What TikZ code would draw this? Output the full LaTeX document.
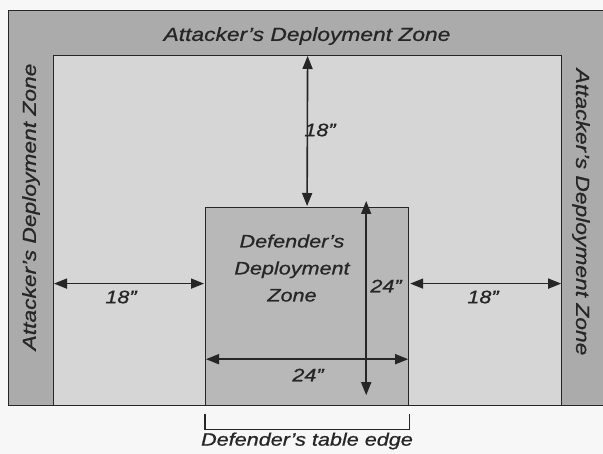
\documentclass[tikz,border=0pt]{standalone}
\usepackage{fontspec}
\setmainfont{Liberation Sans}[FakeStretch=1.2, FakeBold=0.8]
\usetikzlibrary{positioning, arrows.meta}

\definecolor{zonegray}{HTML}{ABABAB}
\definecolor{fieldgray}{HTML}{D6D6D6}
\definecolor{defgray}{HTML}{B8B8B8}
\definecolor{inkgray}{HTML}{262626}

\begin{document}
\begin{tikzpicture}[
    x=1pt, y=-1pt,
    >={Triangle[length=13pt,width=10pt]},
    font=\fontsize{18}{22}\selectfont\itshape,
    every node/.style={align=center, text=inkgray},
    area/.style={draw=inkgray, line width=1.2pt, anchor=north west, inner sep=0pt},
    zonelbl/.style={font=\fontsize{19}{22}\selectfont\itshape},
    dimarrow/.style={<->, draw=inkgray, line width=1.6pt, shorten <=1pt, shorten >=1pt}
]

% page
\fill[gray!6] (0,0) rectangle (603,454);
\useasboundingbox (0,0) rectangle (603,454);

% =================================================
% ZONES
% =================================================

% attacker zone (whole table)
\node[area, fill=zonegray, minimum width=598pt, minimum height=395pt]
    (table) at (8,10) {};

% open field
\node[area, fill=fieldgray, minimum width=508pt, minimum height=350pt]
    (field) at (53,55) {};

% defender zone
\node[area, fill=defgray, minimum width=203pt, minimum height=198pt]
    (defbox) at (205,207) {};

% attacker labels
\node[zonelbl] (atktop) at (307,36) {Attacker's Deployment Zone};
\node[zonelbl, rotate=90] (atkleft) at (31,207) {Attacker's Deployment Zone};
\node[zonelbl, rotate=-90] (atkright) at (581,212) {Attacker's Deployment Zone};

% defender label
\node[font=\fontsize{18}{27}\selectfont\itshape] (deflbl) at (292,268)
    {Defender's\\Deployment\\Zone};

% =================================================
% DISTANCES
% =================================================

% 18" from the top
\draw[dimarrow] (field.north) -- (defbox.north);
\node (dtop) at (320,130) {18"};

% 18" from the left
\coordinate (lfrom) at ([yshift=23pt]field.west |- defbox.west);
\coordinate (lto) at ([yshift=23pt]defbox.west);
\draw[dimarrow] (lfrom) -- (lto);
\node (dleft) at (121,297) {18"};

% 18" from the right
\coordinate (rfrom) at ([yshift=23pt]defbox.east);
\coordinate (rto) at ([yshift=23pt]field.east |- defbox.east);
\draw[dimarrow] (rfrom) -- (rto);
\node (dright) at (483,297) {18"};

% 24" depth
\coordinate (vtop) at ([xshift=-43pt,yshift=7pt]defbox.north east);
\coordinate (vbot) at ([xshift=-43pt,yshift=10pt]defbox.south east);
\draw[dimarrow] (vtop) -- (vbot);
\node (ddepth) at (386,286) {24"};

% 24" width
\coordinate (hleft) at ([yshift=47pt]defbox.south west);
\coordinate (hright) at ([yshift=47pt]defbox.south east);
\draw[dimarrow] (hleft) -- (hright);
\node (dwidth) at (308,375) {24"};

% =================================================
% TABLE EDGE
% =================================================

\draw[inkgray, line width=1.2pt]
    ([yshift=-8pt]defbox.south west) -- ++(0,15) -| ([yshift=-8pt]defbox.south east);
\node (edge) at (307,441) {Defender's table edge};

\end{tikzpicture}
\end{document}
